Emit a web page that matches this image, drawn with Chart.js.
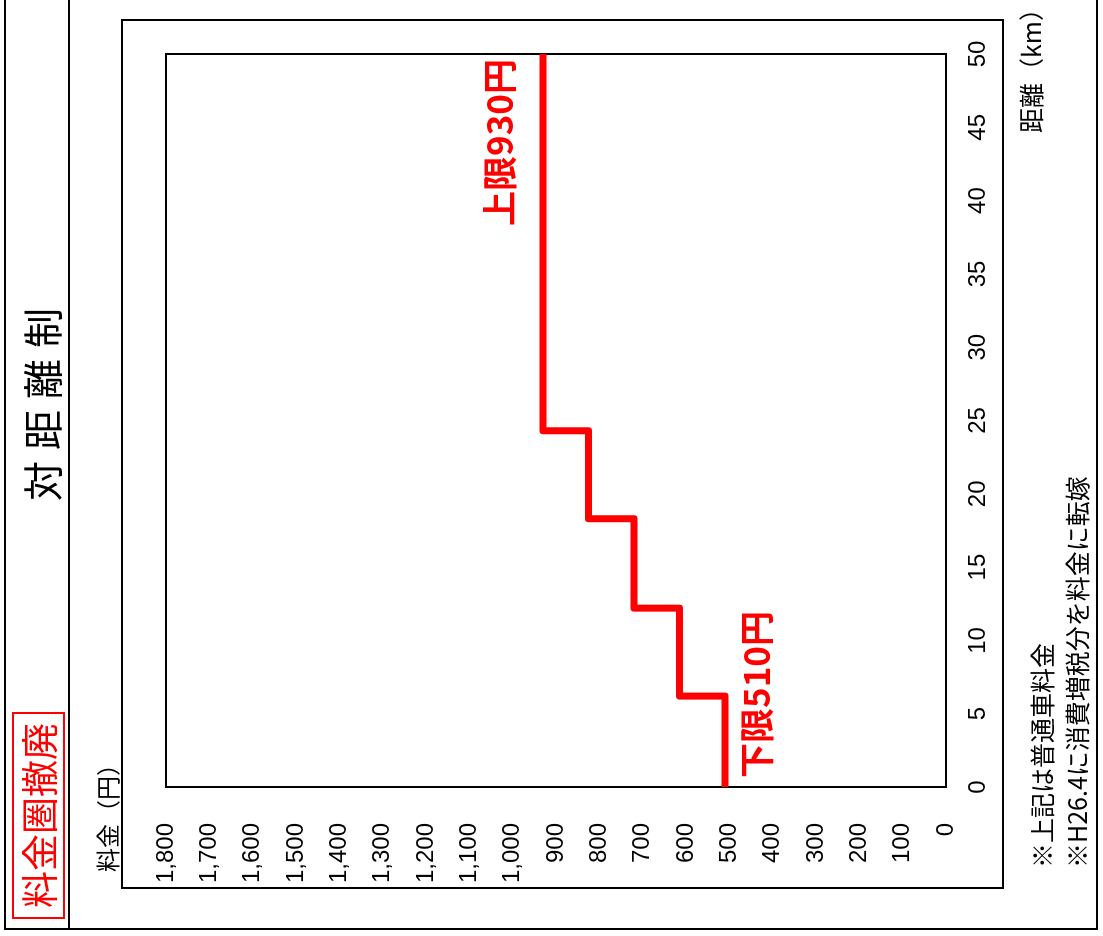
<!DOCTYPE html>
<html lang="ja">
<head>
<meta charset="utf-8">
<title>対距離制</title>
<script src="https://cdn.jsdelivr.net/npm/chart.js@4.4.1/dist/chart.umd.min.js"></script>
<style>
  html,body{margin:0;padding:0;background:#fff;overflow:hidden;width:1103px;height:936px}
  /* the sheet is laid out upright, then turned a quarter to the left */
  #page{position:absolute;left:0;top:0;width:936px;height:1103px;transform-origin:0 0;transform:translate(0,936px) rotate(-90deg);font-family:"Noto Sans CJK JP",sans-serif;color:#000}
  #page .abs{position:absolute;white-space:nowrap;box-sizing:border-box}
  #chart{position:absolute;left:0;top:0}
  .outer{left:6px;top:4px;width:960px;height:1094px;border:2px solid #000}
  .sep{left:6px;top:68px;width:960px;height:2px;background:#000}
  .frame{left:47px;top:121px;width:870px;height:883px;border:2px solid #000}
  .badge{left:17px;top:12px;width:207px;height:53px;border:2px solid #f00;color:#f00;font-size:37px;line-height:49px;text-align:center;letter-spacing:0}
  .title{left:232px;top:21px;width:600px;font-size:40px;line-height:40px;text-align:center;letter-spacing:1px}
  .ylab{left:64px;top:95px;font-size:24px;line-height:24px}
  .xlab{left:740px;top:1018px;width:200px;font-size:25px;line-height:25px;text-align:right}
  .note{left:68px;font-size:25px;line-height:25px}
</style>
</head>
<body>
<div id="page">
  <canvas id="chart" width="936" height="1103"></canvas>
  <div class="abs outer"></div>
  <div class="abs sep"></div>
  <div class="abs frame"></div>
  <div class="abs badge">料金圏撤廃</div>
  <div class="abs title">対 距 離 制</div>
  <div class="abs ylab">料金（円）</div>
  <div class="abs xlab">距離（km）</div>
  <div class="abs note" style="top:1029px">※上記は普通車料金</div>
  <div class="abs note" style="top:1064px">※H26.4に消費増税分を料金に転嫁</div>
</div>
<script>
  // fare by distance band (普通車)
  const distanceKm = [0, 6.2, 12.2, 18.3, 24.3, 50];
  const fareYen    = [510, 615, 720, 825, 930, 930];
  const distTicks  = [0, 5, 10, 15, 20, 25, 30, 35, 40, 45, 50];
  const fareTicks  = [0, 100, 200, 300, 400, 500, 600, 700, 800, 900, 1000, 1100, 1200, 1300, 1400, 1500, 1600, 1700, 1800];
  const limitText  = ['上限930円', '下限510円'];
  const limitFare  = [930, 510];

  const RED = '#ff0000';
  const NUM_FONT = '"Liberation Sans", Arial, sans-serif';
  const JP_FONT = '"Noto Sans CJK JP", sans-serif';
  const fmt = (n)=> Number(n).toLocaleString('en-US');

  // plot box, under the line
  const boxPlugin = {
    id:'box',
    beforeDatasetsDraw(c){
      const a = c.chartArea, ctx = c.ctx;
      ctx.save(); ctx.strokeStyle='#000'; ctx.lineWidth=2;
      ctx.strokeRect(a.left, a.top, a.right-a.left, a.bottom-a.top);
      ctx.restore();
    }
  };

  // 上限 / 下限 labels next to the line
  const limitPlugin = {
    id:'limits',
    afterDatasetsDraw(c){
      const x = c.scales.x, y = c.scales.y, ctx = c.ctx;
      ctx.save();
      ctx.fillStyle = RED; ctx.font = 'bold 35px ' + JP_FONT; ctx.textBaseline = 'middle';
      ctx.textAlign = 'right';
      ctx.fillText(limitText[0], x.getPixelForValue(distTicks[distTicks.length-1]) - 5, y.getPixelForValue(limitFare[0]) - 43);
      ctx.textAlign = 'left';
      ctx.fillText(limitText[1], x.getPixelForValue(distTicks[0]) + 9, y.getPixelForValue(limitFare[1]) + 32);
      ctx.restore();
    }
  };

  new Chart(document.getElementById('chart'), {
    type:'line',
    data:{ datasets:[{
      data: distanceKm.map((d,i)=>({ x:d, y:fareYen[i] })),
      borderColor:RED, borderWidth:7, stepped:'before', pointRadius:0, fill:false,
      borderJoinStyle:'round', borderCapStyle:'butt', clip:false
    }]},
    options:{
      responsive:false, animation:false, events:[], devicePixelRatio:1,
      layout:{ padding:{ left:49, right:54, top:166, bottom:97 } },
      plugins:{ legend:{ display:false }, tooltip:{ enabled:false } },
      scales:{
        x:{
          type:'linear', min:distTicks[0], max:distTicks[distTicks.length-1],
          grid:{ display:false }, border:{ display:false },
          afterBuildTicks: s=>{ s.ticks = distTicks.map(v=>({ value:v })); },
          afterFit: s=>{ s.height = 60; },
          ticks:{ padding:10, maxRotation:0, autoSkip:false, color:'#000', font:{ family:NUM_FONT, size:24 } }
        },
        y:{
          type:'linear', min:fareTicks[0], max:fareTicks[fareTicks.length-1],
          grid:{ display:false }, border:{ display:false },
          afterBuildTicks: s=>{ s.ticks = fareTicks.map(v=>({ value:v })); },
          afterFit: s=>{ s.width = 100; },
          ticks:{ padding:28, autoSkip:false, color:'#000', font:{ family:NUM_FONT, size:24 }, callback: v=>fmt(v) }
        }
      }
    },
    plugins:[boxPlugin, limitPlugin]
  });
</script>
</body>
</html>
